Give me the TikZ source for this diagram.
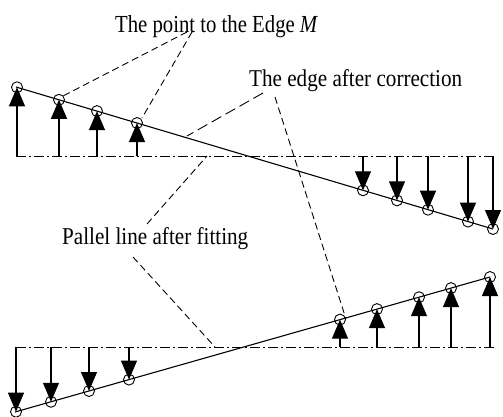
\documentclass[tikz,border=0pt]{standalone}
\usepackage{fontspec}
\setmainfont{Liberation Serif}
\usepackage{graphicx}
\usetikzlibrary{arrows.meta}
\tikzset{
  mainline/.style={line width=1.1pt},
  fitline/.style={line width=1pt, dash pattern=on 10pt off 3pt on 2pt off 3pt},
  vec/.style={line width=1.1pt, -{Triangle[length=19pt,width=16pt]}},
  ptc/.style={circle, draw, line width=0.9pt, minimum size=11pt, inner sep=0pt},
  leader/.style={line width=0.9pt, dash pattern=on 7pt off 4pt},
  lbl/.style={anchor=base west, inner sep=0pt, font=\fontsize{21.5}{24}\selectfont}
}
\begin{document}
\begin{tikzpicture}[x=1pt,y=-1pt]
\useasboundingbox (0,0) rectangle (503,417);
% ---------- top part ----------
\coordinate (TA) at (16,87);
\coordinate (TB) at (493,229);
\coordinate (TL) at (16,156);
\coordinate (TR) at (493,156);
\draw[fitline] (TL) -- (TR);
\draw[mainline] (TA) -- (TB);
\foreach \i/\x/\y in {1/17/87.3, 2/59/99.8, 3/97/111.1, 4/137/123.0,
                      5/363/190.3, 6/397/200.4, 7/428/209.7, 8/468/221.6, 9/493/229.0}{
  \node[ptc] (tc\i) at (\x,\y) {};
  \coordinate (tb\i) at (\x,156);
}
\foreach \i in {1,...,9}{ \draw[vec] (tb\i) -- (tc\i.center); }
% ---------- bottom part ----------
\coordinate (BA) at (15,412);
\coordinate (BB) at (490,277);
\coordinate (BL) at (16,347);
\coordinate (BR) at (494,347);
\draw[fitline] (BL) -- (BR);
\draw[mainline] (BA) -- (BB);
\foreach \i/\x/\y in {1/16/411.7, 2/51/401.8, 3/89/391.0, 4/129/379.6,
                      5/340/319.6, 6/377/309.1, 7/419/297.2, 8/451/288.1, 9/490/277.0}{
  \node[ptc] (bc\i) at (\x,\y) {};
  \coordinate (bb\i) at (\x,347);
}
\foreach \i in {1,...,9}{ \draw[vec] (bb\i) -- (bc\i.center); }
% ---------- labels ----------
\node[lbl] (l1) at (115,33) {\resizebox{203pt}{17pt}{The point to the Edge \textit{M}}};
\node[lbl] (l2) at (249,87) {\resizebox{213pt}{17pt}{The edge after correction}};
\node[lbl] (l3) at (62,244) {\resizebox{186pt}{17pt}{Pallel line after fitting}};
% ---------- leaders ----------
\coordinate (p1s) at (187,32);
\coordinate (p2s) at (192,32);
\coordinate (p1e) at (63,96);
\coordinate (p2e) at (142,118);
\draw[leader] (p1s) -- (p1e);
\draw[leader] (p2s) -- (p2e);
\coordinate (e1s) at (263,93);
\coordinate (e1e) at (187,136);
\coordinate (e2s) at (275,97);
\coordinate (e2e) at (346,319);
\draw[leader, dash pattern=on 11pt off 5pt] (e1s) -- (e1e);
\draw[leader] (e2s) -- (e2e);
\coordinate (f1s) at (147,224);
\coordinate (f1e) at (207,156);
\coordinate (f2s) at (133,257);
\coordinate (f2e) at (215,347);
\draw[leader] (f1s) -- (f1e);
\draw[leader] (f2s) -- (f2e);
\end{tikzpicture}
\end{document}
